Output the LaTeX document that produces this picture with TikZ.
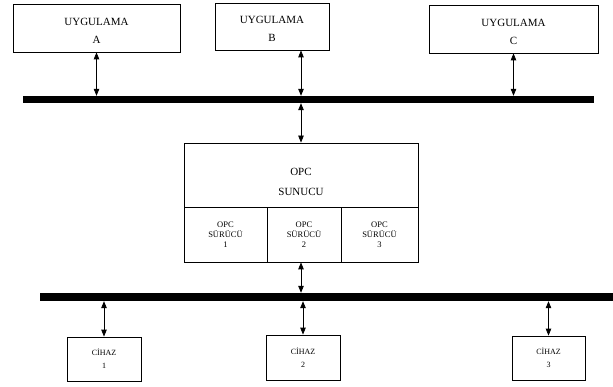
\documentclass[tikz,border=0pt]{standalone}
\usepackage{fontspec}
\setmainfont{Liberation Serif}
\usetikzlibrary{arrows.meta}
\newcommand\toppad[1]{\rule{0pt}{#1}}
\begin{document}
\begin{tikzpicture}[x=1pt,y=-1pt,
  box/.style={draw,line width=0.8pt,align=center,inner sep=0pt},
  bus/.style={fill=black,draw=none,inner sep=0pt},
  dbl/.style={line width=0.8pt,{Triangle[length=7pt,width=5.5pt]}-{Triangle[length=7pt,width=5.5pt]}},
  big/.style={font=\fontsize{11}{18}\selectfont},
  mid/.style={font=\fontsize{8.5}{10}\selectfont},
  small/.style={font=\fontsize{8}{13}\selectfont}]
\fill[white] (0,0) rectangle (613,387);
\useasboundingbox (0,0) rectangle (613,387);
% application boxes
\node[box,big,minimum width=167pt,minimum height=48pt] (A) at (96.5,28) {\toppad{13.5pt}UYGULAMA\\A};
\node[box,big,minimum width=114pt,minimum height=47pt] (B) at (272,26.5) {\toppad{12pt}UYGULAMA\\B};
\node[box,big,minimum width=169pt,minimum height=48pt] (C) at (513.5,29) {\toppad{14pt}UYGULAMA\\C};
% top bus
\node[bus,minimum width=571pt,minimum height=7pt] (bus1) at (308.5,99.5) {};
% OPC server
\node[box,font=\fontsize{11}{20}\selectfont,minimum width=234pt,minimum height=64pt] (srv) at (301,175) {\toppad{21pt}OPC\\SUNUCU};
\node[box,mid,minimum width=83pt,minimum height=55pt] (d1) at (225.5,234.5) {OPC\\SÜRÜCÜ\\1};
\node[box,mid,minimum width=74pt,minimum height=55pt] (d2) at (304,234.5) {OPC\\SÜRÜCÜ\\2};
\node[box,mid,minimum width=77pt,minimum height=55pt] (d3) at (379.5,234.5) {OPC\\SÜRÜCÜ\\3};
% bottom bus
\node[bus,minimum width=573pt,minimum height=8pt] (bus2) at (326.5,297) {};
% devices
\node[box,small,minimum width=74pt,minimum height=44pt] (c1) at (104,359) {CİHAZ\\1};
\node[box,small,minimum width=74pt,minimum height=45pt] (c2) at (303,357.5) {CİHAZ\\2};
\node[box,small,minimum width=73pt,minimum height=44pt] (c3) at (548.5,358) {CİHAZ\\3};
% connectors
\draw[dbl] (A.south) -- (A.south |- bus1.north);
\draw[dbl] (B.south -| srv.north) -- (bus1.north -| srv.north);
\draw[dbl] (C.south) -- (C.south |- bus1.north);
\draw[dbl] (bus1.south -| srv.north) -- (srv.north);
\draw[dbl] (d2.south -| srv.north) -- (bus2.north -| srv.north);
\draw[dbl] (bus2.south -| c1.north) -- (c1.north);
\draw[dbl] (bus2.south -| c2.north) -- (c2.north);
\draw[dbl] (bus2.south -| c3.north) -- (c3.north);
\end{tikzpicture}
\end{document}
